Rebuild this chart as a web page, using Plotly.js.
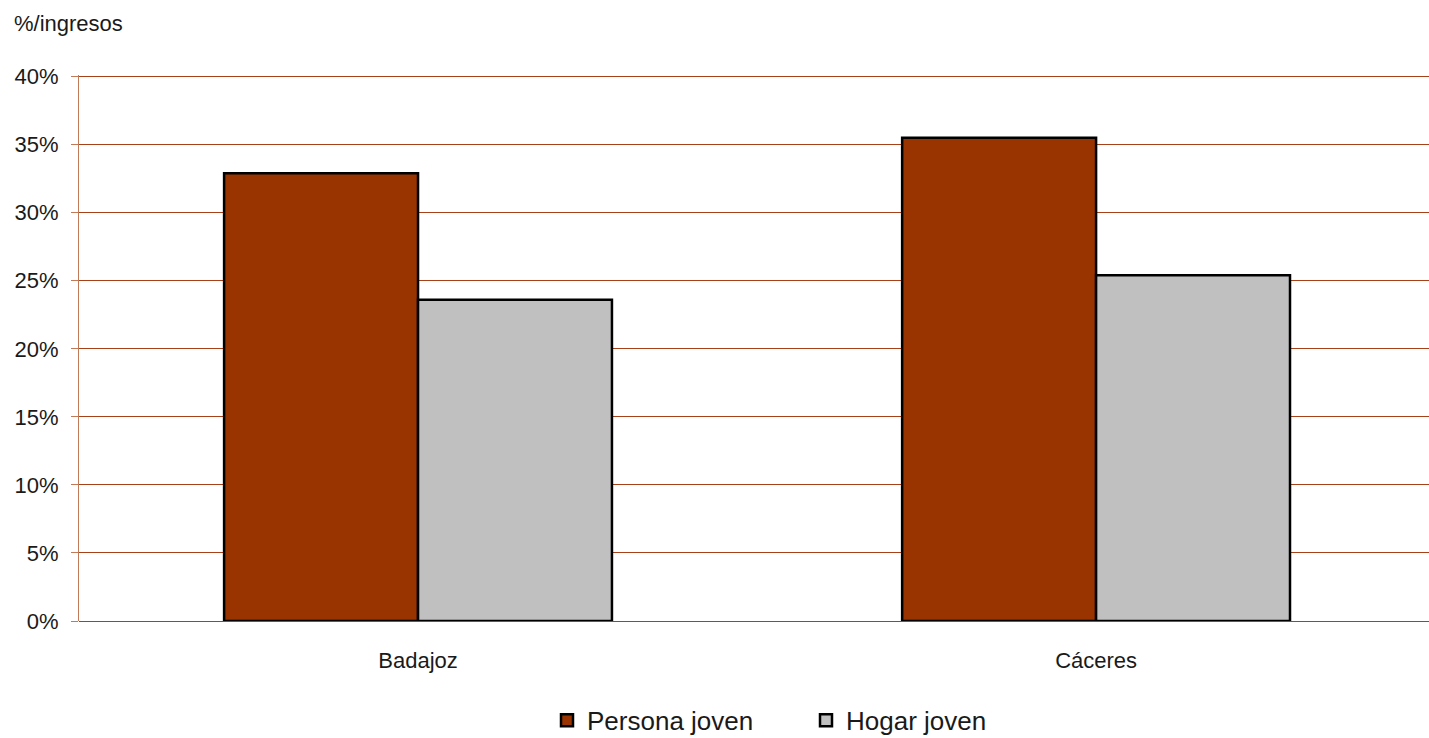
<!DOCTYPE html>
<html>
<head>
<meta charset="utf-8">
<script src="https://cdn.plot.ly/plotly-3.0.1.min.js"></script>
<style>html,body{margin:0;padding:0;background:#fff;}#chart{width:1429px;height:738px;}</style>
</head>
<body>
<div id="chart"></div>
<script>
var categories = ["Badajoz", "Cáceres"];
var seriesNames = ["Persona joven", "Hogar joven"];
var personaJoven = [0.329, 0.355];
var hogarJoven = [0.236, 0.254];
var yTickVals = [0, 0.05, 0.10, 0.15, 0.20, 0.25, 0.30, 0.35, 0.40];
var yTickText = ["0%", "5%", "10%", "15%", "20%", "25%", "30%", "35%", "40%"];
var yAxisLabel = "%/ingresos";

var FONT = '"Liberation Sans", Arial, sans-serif';
var GRID = "#a8401a";
var TXT = "#1a1a1a";

var traces = [
  {type: "bar", name: seriesNames[0], x: categories, y: personaJoven,
   marker: {color: "#993300", line: {color: "#000000", width: 2.5}}},
  {type: "bar", name: seriesNames[1], x: categories, y: hogarJoven,
   marker: {color: "#C0C0C0", line: {color: "#000000", width: 2.5}}}
];

var layout = {
  width: 1429, height: 738,
  margin: {l: 79, r: 0, t: 75, b: 117, pad: 0},
  paper_bgcolor: "#ffffff", plot_bgcolor: "#ffffff",
  font: {family: FONT, size: 22, color: TXT},
  barmode: "group", bargap: 0.428, bargroupgap: 0,
  showlegend: true,
  legend: {orientation: "h", x: 547/1429, xanchor: "left", xref: "container",
           y: 0.024, yref: "container", yanchor: "middle",
           font: {family: FONT, size: 26, color: TXT}, traceorder: "normal",
           entrywidth: 214},
  xaxis: {type: "category", range: [-0.5, 1.491], showgrid: false, zeroline: false,
          showline: false, ticks: "", ticklabelstandoff: 24,
          tickfont: {family: FONT, size: 22, color: TXT}},
  yaxis: {range: [0, 0.4012], tickvals: yTickVals, ticktext: yTickText,
          showgrid: true, gridcolor: GRID, gridwidth: 1,
          zeroline: true, zerolinecolor: GRID, zerolinewidth: 1,
          showline: true, linecolor: "#c07a58", linewidth: 1,
          ticks: "outside", ticklen: 7, tickcolor: "#c07a58", tickwidth: 1,
          ticklabelstandoff: 8,
          tickfont: {family: FONT, size: 22, color: TXT}},
  annotations: [{text: yAxisLabel, xref: "paper", yref: "paper", x: -0.0493, y: 1.0946,
                 xanchor: "left", yanchor: "middle", showarrow: false,
                 font: {family: FONT, size: 22, color: TXT}}]
};

Plotly.newPlot("chart", traces, layout, {displayModeBar: false, staticPlot: true});
</script>
</body>
</html>
